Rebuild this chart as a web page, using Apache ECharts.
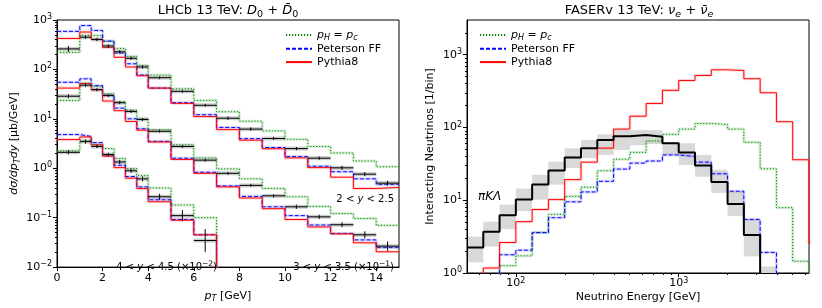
<!DOCTYPE html>
<html><head><meta charset="utf-8">
<script src="https://cdn.jsdelivr.net/npm/echarts@6/dist/echarts.min.js"></script>
<style>html,body{margin:0;padding:0;background:#fff}#c{width:822px;height:308px}</style>
</head><body><div id="c"></div>
<script>
// ---------------- LHCb panel data (pT bins in GeV) ----------------
const ptEdges = [0, 1, 1.5, 2, 2.5, 3, 3.5, 4, 5, 6, 7, 8, 9, 10, 11, 12, 13, 14, 15];
const ptTicks = [0, 2, 4, 6, 8, 10, 12, 14];
const lhcbYTickExp = [-2, -1, 0, 1, 2, 3];

// 2 < y < 2.5
const y2Data = [260, 449, 404, 298, 227, 168, 112, 68, 36, 18.8, 10.3, 6.2, 4.0, 2.5, 1.6, 1.02, 0.76, 0.5];
const y2Err  = [1.15, 1.08, 1.08, 1.08, 1.08, 1.08, 1.08, 1.07, 1.07, 1.07, 1.08, 1.08, 1.08, 1.08, 1.08, 1.1, 1.1, 1.12];
const y2Pc   = [221, 492, 480, 370, 264, 184, 121, 77, 40.6, 23.6, 13.9, 8.97, 5.7, 3.85, 2.76, 2.04, 1.4, 1.07];
const y2Pet  = [589, 772, 616, 374, 214, 130, 77, 41.9, 21.2, 12.1, 6.7, 3.97, 2.63, 1.72, 1.1, 0.85, 0.61, 0.47];
const y2Py8  = [423, 571, 404, 277, 176, 112, 74.5, 41.9, 20.6, 11.1, 6.05, 3.7, 2.48, 1.62, 1.03, 0.66, 0.39, 0.41];

// 3 < y < 3.5 (x 10^-1)
const y3Data = [28.7, 48, 38.9, 29.6, 21.2, 14.1, 9.7, 5.6, 2.76, 1.46, 0.79, 0.45, 0.277, 0.166, 0.104, 0.072, 0.045, 0.0265];
const y3Err  = [1.1, 1.08, 1.07, 1.07, 1.07, 1.07, 1.07, 1.07, 1.07, 1.07, 1.07, 1.07, 1.08, 1.1, 1.1, 1.12, 1.18, 1.25];
const y3Pc   = [23.6, 52.5, 45, 32.3, 21.9, 15, 10, 6.05, 2.98, 1.63, 0.97, 0.61, 0.39, 0.265, 0.169, 0.121, 0.096, 0.070];
const y3Pet  = [55, 64.5, 47, 30, 16.5, 10, 6.3, 3.5, 1.6, 0.83, 0.44, 0.27, 0.166, 0.110, 0.071, 0.048, 0.0355, 0.0248];
const y3Py8  = [41.9, 52, 38.9, 22.9, 14.6, 8.85, 5.9, 3.4, 1.51, 0.79, 0.42, 0.25, 0.152, 0.092, 0.065, 0.047, 0.031, 0.0204];

// 4 < y < 4.5 (x 10^-2), measured up to 7 GeV
const y4Data = [2.1, 3.46, 2.76, 1.9, 1.34, 0.89, 0.61, 0.265, 0.11, 0.0345];
const y4Err  = [1.1, 1.1, 1.08, 1.08, 1.1, 1.1, 1.12, 1.15, 1.3, 1.7];
const y4Pc   = [2.25, 3.6, 3.0, 2.5, 1.58, 0.99, 0.71, 0.40, 0.18, 0.10];
const y4Pet  = [4.8, 4.4, 3.3, 1.85, 1.15, 0.68, 0.42, 0.23, 0.092, 0.045];
const y4Py8  = [3.8, 4.3, 2.98, 1.75, 1.03, 0.63, 0.39, 0.21, 0.089, 0.045];

// ---------------- FASERv panel data (energy bins in GeV) ----------------
const eEdges = [50.12, 63.10, 79.43, 100, 125.9, 158.5, 199.5, 251.2, 316.2, 398.1, 501.2, 631.0, 794.3,
                1000, 1258.9, 1584.9, 1995.3, 2511.9, 3162.3, 3981.1, 5011.9, 6309.6, 7943.3];
const eTickExp = [2, 3];
const nuYTickExp = [0, 1, 2, 3];
const lightNu     = [2.24, 3.7, 6.2, 10.2, 16.4, 25.7, 38.6, 51.7, 67.4, 76, 78.8, 74.6, 60.7, 45.2, 30, 17.8, 8.9, 3.33, null, null, null, null];
const lightNuLow  = [1.40, 2.31, 4.0, 7.1, 10.2, 16.4, 27.7, 37.9, 42, 49, 57, 59, 42, 30.5, 21, 12.6, 6.05, 1.69, 0.5, null, null, null];
const lightNuHigh = [3.17, 5.07, 8.7, 14.5, 22.4, 34, 51.7, 67.4, 80.4, 92, 92, 92, 62.5, 60.7, 42, 26.2, 13.3, 5.45, 1.23, null, null, null];
const nuPc  = [null, null, 1.26, 1.72, 3.59, 6.4, 11.3, 15.1, 25.4, 36.7, 45.5, 65.2, 80.4, 95, 113.5, 110, 95, 62.5, 27, 7.9, 1.45, null];
const nuPet = [null, null, 1.78, 2.06, 3.59, 5.75, 9.5, 13, 18.2, 26.8, 32.4, 34.6, 41.9, 40, 33.4, 23.1, 13.3, 5.45, 1.92, null, null, null];
const nuPy8 = [null, 1.17, 2.62, 5.07, 7.46, 10.2, 19.2, 33.4, 52, 95, 143, 214, 324, 443, 519, 620, 607, 468, 300, 120, 36, 2.6];

// ---------------- helpers ----------------
const FLOOR = 1e-9;
function steps(edges, vals) {
  const pts = [];
  let prev = null;
  for (let i = 0; i < vals.length; i++) {
    const v = vals[i];
    if (v == null) { if (prev != null) pts.push([edges[i], FLOOR]); prev = null; continue; }
    if (prev == null && i > 0) pts.push([edges[i], FLOOR]);
    pts.push([edges[i], v], [edges[i + 1], v]);
    prev = v;
  }
  return pts;
}
function dataRows(edges, vals, errs) {
  return vals.map((v, i) => [edges[i], edges[i + 1], v, errs[i]]);
}
function bandRows(edges, lo, hi) {
  const r = [];
  lo.forEach((l, i) => { if (l != null && hi[i] != null) r.push([edges[i], edges[i + 1], l, hi[i]]); });
  return r;
}
function minorExp(nFrom, nTo, lo, hi) {
  const out = [];
  for (let n = nFrom; n <= nTo; n++) for (let k = 2; k <= 9; k++) {
    const e = n + Math.log10(k);
    if (e > lo + 1e-6 && e < hi - 1e-6) out.push(e);
  }
  return out;
}

const FONT = 'DejaVu Sans';
const BLACK = '#000';
const GREEN = '#008000', BLUE = '#0000ff', RED = '#ff0000';
const DOT = [1.2, 1.8], DASH = [4, 2];

const rich = {
  i:   {fontFamily: FONT, fontSize: 11, fontStyle: 'italic', color: BLACK},
  n:   {fontFamily: FONT, fontSize: 11, color: BLACK},
  s:   {fontFamily: FONT, fontSize: 8, fontStyle: 'italic', color: BLACK, padding: [6, 0, 0, 0], lineHeight: 9},
  sr:  {fontFamily: FONT, fontSize: 8, color: BLACK, padding: [6, 0, 0, 0], lineHeight: 9},
  sup: {fontFamily: FONT, fontSize: 8, color: BLACK, padding: [0, 0, 6, 0], lineHeight: 9},
  ti:  {fontFamily: FONT, fontSize: 13, fontStyle: 'italic', color: BLACK},
  tn:  {fontFamily: FONT, fontSize: 13, color: BLACK},
  ts:  {fontFamily: FONT, fontSize: 9.5, fontStyle: 'italic', color: BLACK, padding: [7, 0, 0, 0], lineHeight: 10},
  tsr: {fontFamily: FONT, fontSize: 9.5, color: BLACK, padding: [7, 0, 0, 0], lineHeight: 10},
  ai:  {fontFamily: FONT, fontSize: 10, fontStyle: 'italic', color: BLACK},
  asup:{fontFamily: FONT, fontSize: 7.5, color: BLACK, padding: [0, 0, 5, 0], lineHeight: 8}
};
const expFmt = v => '10{sup|' + (v < 0 ? '\u2212' + (-v) : v) + '}';

function lineS(name, pts, color, type, width, xi, yi, z) {
  return {type: 'line', name, data: pts, xAxisIndex: xi, yAxisIndex: yi, symbol: 'none', showSymbol: false,
          silent: true, z, clip: true, lineStyle: {color, width, type}, itemStyle: {color}};
}
function bandS(pts, color, xi, yi) {
  return {type: 'line', name: 'band', data: pts, xAxisIndex: xi, yAxisIndex: yi, symbol: 'none', silent: true,
          z: 1, clip: true, lineStyle: {color, width: 3, opacity: 0.25}};
}
function dataS(rows) {
  return {
    type: 'custom', name: 'LHCb data', data: rows, xAxisIndex: 0, yAxisIndex: 0, clip: true, z: 6, silent: true,
    encode: {x: [0, 1], y: 2},
    renderItem(params, api) {
      const lo = api.value(0), hi = api.value(1), v = api.value(2), f = api.value(3);
      const a = api.coord([lo, v]), b = api.coord([hi, v]);
      const c = api.coord([(lo + hi) / 2, v * f]), d = api.coord([(lo + hi) / 2, v / f]);
      return {type: 'group', children: [
        {type: 'rect', shape: {x: a[0], y: a[1] - 2, width: b[0] - a[0], height: 4}, style: {fill: 'rgba(110,110,110,0.35)'}},
        {type: 'line', shape: {x1: a[0], y1: a[1], x2: b[0], y2: b[1]}, style: {stroke: BLACK, lineWidth: 1}},
        {type: 'line', shape: {x1: c[0], y1: c[1], x2: d[0], y2: d[1]}, style: {stroke: BLACK, lineWidth: 1}}
      ]};
    }
  };
}
function grayBandS(rows) {
  return {
    type: 'custom', name: 'lightband', data: rows, xAxisIndex: 1, yAxisIndex: 3, clip: true, z: 0, silent: true,
    encode: {x: [0, 1], y: [2, 3]},
    renderItem(params, api) {
      const p1 = api.coord([api.value(0), api.value(3)]);
      const p2 = api.coord([api.value(1), api.value(2)]);
      return {type: 'rect', shape: {x: p1[0], y: p1[1], width: p2[0] - p1[0], height: p2[1] - p1[1]},
              style: {fill: '#d9d9d9'}};
    }
  };
}

// ---------------- series ----------------
const series = [];
[[y2Pc, y2Pet, y2Py8], [y3Pc, y3Pet, y3Py8], [y4Pc.concat([null]), y4Pet.concat([null]), y4Py8.concat([null])]]
  .forEach(([pc, pet, py]) => {
    series.push(lineS('pHpc', steps(ptEdges, pc), GREEN, DOT, 1, 0, 0, 3));
    series.push(lineS('Peterson FF', steps(ptEdges, pet), BLUE, DASH, 1, 0, 0, 4));
    series.push(lineS('Pythia8', steps(ptEdges, py), RED, 'solid', 1, 0, 0, 5));
    series.push(bandS(steps(ptEdges, pc), '#5fbf5f', 0, 0));
    series.push(bandS(steps(ptEdges, pet), '#6f6fff', 0, 0));
    series.push(bandS(steps(ptEdges, py), '#ff6f6f', 0, 0));
  });
series.push(dataS(dataRows(ptEdges, y2Data, y2Err)));
series.push(dataS(dataRows(ptEdges, y3Data, y3Err)));
series.push(dataS(dataRows(ptEdges, y4Data, y4Err)));
series.push(grayBandS(bandRows(eEdges, lightNuLow, lightNuHigh)));
series.push(bandS(steps(eEdges, nuPc), '#5fbf5f', 1, 3));
series.push(bandS(steps(eEdges, nuPet), '#6f6fff', 1, 3));
series.push(bandS(steps(eEdges, nuPy8), '#ff6f6f', 1, 3));
series.push(lineS('pHpc', steps(eEdges, nuPc), GREEN, DOT, 1, 1, 3, 3));
series.push(lineS('Peterson FF', steps(eEdges, nuPet), BLUE, DASH, 1, 1, 3, 4));
series.push(lineS('Pythia8', steps(eEdges, nuPy8), RED, 'solid', 1, 1, 3, 5));
series.push(lineS('piKLambda', steps(eEdges, lightNu), BLACK, 'solid', 2, 1, 3, 6));

// ---------------- axes ----------------
const labelStyle = {fontFamily: FONT, fontSize: 11, color: BLACK, rich};
const noSplit = {show: false};
const hide = {show: false};
const NY = Math.log10(3000);

const xAxis = [
  {type: 'value', gridIndex: 0, position: 'bottom', min: 0, max: 15,
   axisLine: {show: true, onZero: false, lineStyle: {color: BLACK}},
   axisTick: {show: true, customValues: ptTicks, length: 4, lineStyle: {color: BLACK}},
   axisLabel: Object.assign({customValues: ptTicks, margin: 6}, labelStyle),
   splitLine: noSplit,
   name: '{i|p}{s|T} [GeV]', nameLocation: 'middle', nameGap: 18,
   nameTextStyle: {fontFamily: FONT, fontSize: 11, color: BLACK, rich}},
  {type: 'log', gridIndex: 1, position: 'bottom', min: 50.12, max: 6309.6, logBase: 10,
   axisLine: {show: true, onZero: false, lineStyle: {color: BLACK}},
   axisTick: hide, axisLabel: hide, splitLine: noSplit,
   name: 'Neutrino Energy [GeV]', nameLocation: 'middle', nameGap: 19,
   nameTextStyle: {fontFamily: FONT, fontSize: 11, color: BLACK}},
  {type: 'value', gridIndex: 1, position: 'bottom', min: 1.7, max: 3.8,
   axisLine: {show: false, onZero: false},
   axisTick: {show: true, customValues: eTickExp, length: 4, lineStyle: {color: BLACK}},
   axisLabel: Object.assign({customValues: eTickExp, margin: 5, formatter: expFmt}, labelStyle),
   splitLine: noSplit},
  {type: 'value', gridIndex: 1, position: 'bottom', min: 1.7, max: 3.8,
   axisLine: {show: false, onZero: false},
   axisTick: {show: true, customValues: minorExp(1, 3, 1.7, 3.8), length: 2, lineStyle: {color: BLACK}},
   axisLabel: hide, splitLine: noSplit}
];
const yAxis = [
  {type: 'log', gridIndex: 0, position: 'left', min: 0.01, max: 1000, logBase: 10,
   axisLine: {show: true, onZero: false, lineStyle: {color: BLACK}},
   axisTick: hide, axisLabel: hide, splitLine: noSplit,
   name: '{i|d\u03c3/dp}{s|T}{i|dy} [\u03bcb/GeV]', nameLocation: 'middle', nameGap: 37, nameRotate: 90,
   nameTextStyle: {fontFamily: FONT, fontSize: 11, color: BLACK, rich}},
  {type: 'value', gridIndex: 0, position: 'left', min: -2, max: 3,
   axisLine: {show: false, onZero: false},
   axisTick: {show: true, customValues: lhcbYTickExp, length: 4, lineStyle: {color: BLACK}},
   axisLabel: Object.assign({customValues: lhcbYTickExp, margin: 5, formatter: expFmt}, labelStyle),
   splitLine: noSplit},
  {type: 'value', gridIndex: 0, position: 'left', min: -2, max: 3,
   axisLine: {show: false, onZero: false},
   axisTick: {show: true, customValues: minorExp(-2, 2, -2, 3), length: 2, lineStyle: {color: BLACK}},
   axisLabel: hide, splitLine: noSplit},
  {type: 'log', gridIndex: 1, position: 'left', min: 1, max: 3000, logBase: 10,
   axisLine: {show: true, onZero: false, lineStyle: {color: BLACK}},
   axisTick: hide, axisLabel: hide, splitLine: noSplit,
   name: 'Interacting Neutrinos [1/bin]', nameLocation: 'middle', nameGap: 31, nameRotate: 90,
   nameTextStyle: {fontFamily: FONT, fontSize: 11, color: BLACK}},
  {type: 'value', gridIndex: 1, position: 'left', min: 0, max: NY,
   axisLine: {show: false, onZero: false},
   axisTick: {show: true, customValues: nuYTickExp, length: 4, lineStyle: {color: BLACK}},
   axisLabel: Object.assign({customValues: nuYTickExp, margin: 5, formatter: expFmt}, labelStyle),
   splitLine: noSplit},
  {type: 'value', gridIndex: 1, position: 'left', min: 0, max: NY,
   axisLine: {show: false, onZero: false},
   axisTick: {show: true, customValues: minorExp(0, 3, 0, NY), length: 2, lineStyle: {color: BLACK}},
   axisLabel: hide, splitLine: noSplit}
];

const legendNames = ['pHpc', 'Peterson FF', 'Pythia8'];
const legendFmt = n => n === 'pHpc' ? '{i|p}{s|H}{n| = }{i|p}{s|c}' : n;
function legendAt(left) {
  return {left, top: 23, orient: 'vertical', itemWidth: 26, itemHeight: 10, itemGap: 0,
          data: legendNames, formatter: legendFmt, selectedMode: false,
          itemStyle: {opacity: 0},
          textStyle: {fontFamily: FONT, fontSize: 11, color: BLACK, lineHeight: 13.4, rich}};
}

function txt(x, y, text, align, size, extra) {
  return {type: 'text', x, y, silent: true, z: 100,
          style: Object.assign({text, fontFamily: FONT, fontSize: size, fill: BLACK, align, verticalAlign: 'middle', rich}, extra || {})};
}

const option = {
  animation: false,
  backgroundColor: '#fff',
  grid: [
    {left: 57, top: 20, width: 342, height: 254, show: true, borderColor: BLACK, borderWidth: 1, backgroundColor: 'transparent'},
    {left: 467, top: 20, width: 342, height: 254, show: true, borderColor: BLACK, borderWidth: 1, backgroundColor: 'transparent'}
  ],
  xAxis, yAxis,
  legend: [legendAt(280), legendAt(474)],
  series,
  graphic: [
    txt(228, 11, 'LHCb 13 TeV: {ti|D}{tsr|0}{tn| + }{ti|D\u0304}{tsr|0}', 'center', 13),
    txt(639, 11, 'FASERv 13 TeV: {ti|\u03bd}{ts|e}{tn| + }{ti|\u03bd\u0304}{ts|e}', 'center', 13),
    txt(394, 199, '2 < {ai|y} < 2.5', 'right', 10),
    txt(394, 267, '3 < {ai|y} < 3.5 (\u00d710{asup|\u22121})', 'right', 10),
    txt(217, 267, '4 < {ai|y} < 4.5 (\u00d710{asup|\u22122})', 'right', 10),
    txt(478, 197, '\u03c0K\u039b', 'left', 12, {fontStyle: 'italic'})
  ]
};

const chart = echarts.init(document.getElementById('c'), null, {renderer: 'canvas', width: 822, height: 308});
chart.setOption(option);
</script>
</body></html>
